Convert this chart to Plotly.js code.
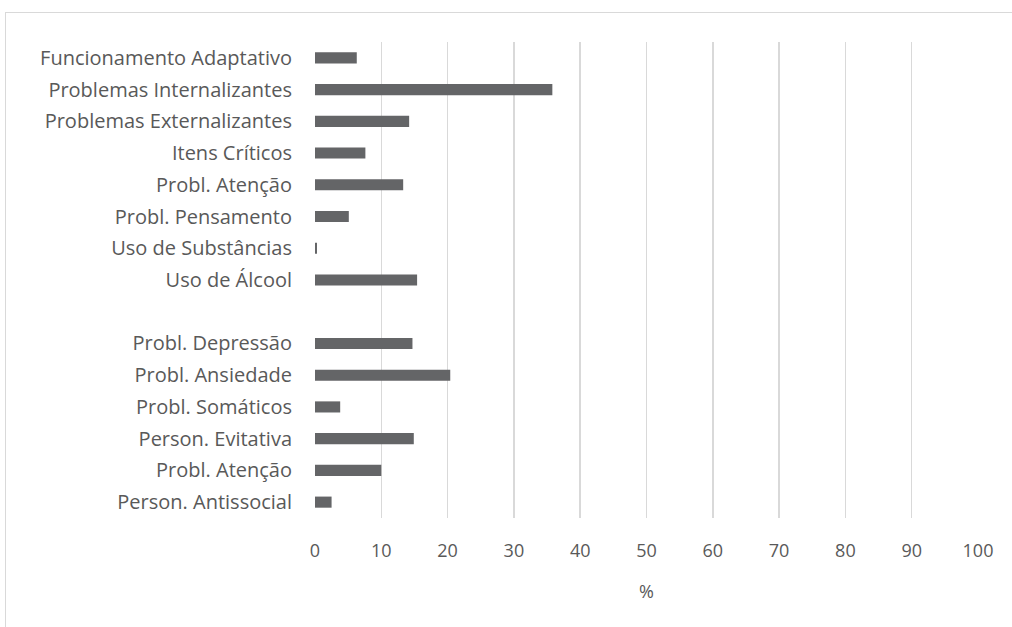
<!DOCTYPE html>
<html>
<head>
<meta charset="utf-8">
<script src="https://cdn.plot.ly/plotly-3.0.1.min.js"></script>
<style>
  html, body { margin: 0; padding: 0; background: #ffffff; overflow: hidden; }
  #frame { position: absolute; left: 5px; top: 12px; width: 1100px; height: 700px;
           border: 1px solid #d9d9d9; }
  #chart { position: absolute; left: 0; top: 0; width: 1012px; height: 627px; }
</style>
</head>
<body>
<div id="frame"></div>
<div id="chart"></div>
<script>
// Scale groups, top to bottom; the empty label separates the two blocks.
const categories = [
  "Funcionamento Adaptativo",
  "Problemas Internalizantes",
  "Problemas Externalizantes",
  "Itens Críticos",
  "Probl. Atenção",
  "Probl. Pensamento",
  "Uso de Substâncias",
  "Uso de Álcool",
  "",
  "Probl. Depressão",
  "Probl. Ansiedade",
  "Probl. Somáticos",
  "Person. Evitativa",
  "Probl. Atenção",
  "Person. Antissocial"
];
// Percentage per scale (null for the spacer row)
const percentages = [6.3, 35.8, 14.2, 7.6, 13.3, 5.1, 0.3, 15.4, null, 14.7, 20.4, 3.8, 14.9, 10.0, 2.5];
const xTicks = [0, 10, 20, 30, 40, 50, 60, 70, 80, 90, 100];

// Rows are placed by index so repeated labels stay on separate lines
const rowIndex = categories.map((_, i) => i);

const textColor = "#595959";
const fontFamily = "'Open Sans', 'Noto Sans', sans-serif";

Plotly.newPlot("chart", [{
  type: "bar",
  orientation: "h",
  x: percentages,
  y: rowIndex,
  marker: { color: "#646567" },
  hoverinfo: "skip"
}], {
  width: 1012,
  height: 627,
  margin: { l: 315, r: 34, t: 42, b: 109 },
  paper_bgcolor: "rgba(0,0,0,0)",
  plot_bgcolor: "rgba(0,0,0,0)",
  bargap: 0.65,
  showlegend: false,
  font: { family: fontFamily, color: textColor, size: 20 },
  xaxis: {
    range: [0, 100],
    tickvals: xTicks,
    ticktext: xTicks.map(String),
    showgrid: true,
    gridcolor: "#d9d9d9",
    gridwidth: 1.5,
    zeroline: false,
    showline: false,
    ticks: "",
    ticklabelstandoff: 20,
    tickfont: { size: 18, color: textColor },
    title: { text: "%", font: { size: 18, color: textColor }, standoff: 24 }
  },
  yaxis: {
    range: [14.5, -0.5],
    tickvals: rowIndex,
    ticktext: categories,
    showgrid: false,
    zeroline: false,
    showline: false,
    ticks: "",
    ticklabelstandoff: 22,
    tickfont: { size: 20, color: textColor }
  }
}, { staticPlot: true, displayModeBar: false });
</script>
</body>
</html>
